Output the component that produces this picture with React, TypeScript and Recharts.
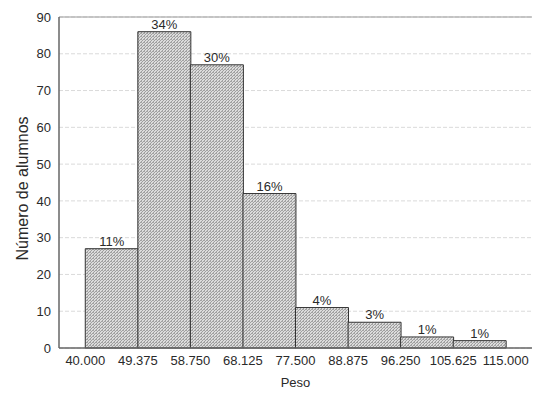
import { BarChart, Bar, XAxis, YAxis, CartesianGrid, LabelList, ReferenceLine } from "recharts";

const edges = ["40.000", "49.375", "58.750", "68.125", "77.500", "88.875", "96.250", "105.625", "115.000"];
const counts = [27, 86, 77, 42, 11, 7, 3, 2];
const percents = ["11%", "34%", "30%", "16%", "4%", "3%", "1%", "1%"];
const yTicks = [0, 10, 20, 30, 40, 50, 60, 70, 80, 90];

const rows = counts.map((count, i) => ({ pos: i + 0.5, count, pct: percents[i] }));
const edgeTicks = edges.map((_, i) => i);

const font = "'Liberation Sans', Arial, sans-serif";
const ink = "#2a2a2a";

export default function App() {
  return (
    <div style={{ position: "absolute", left: 0, top: 0, fontFamily: font }}>
      <BarChart
        width={535}
        height={394}
        data={rows}
        margin={{ top: 17, right: 3, bottom: 0, left: 0 }}
        barCategoryGap={0}
        barGap={0}
      >
        <defs>
          <pattern id="hatch" patternUnits="userSpaceOnUse" width="3" height="3">
            <rect width="3" height="3" fill="#dcdcdc" />
            <path d="M0,3 L3,0" stroke="#8e8e8e" strokeWidth="0.8" />
            <rect x="0" y="0" width="1" height="1" fill="#a8a8a8" />
          </pattern>
        </defs>
        <CartesianGrid vertical={false} stroke="#dadada" strokeDasharray="4 2" />
        <XAxis
          dataKey="pos"
          type="number"
          domain={[-0.5, 8.5]}
          ticks={edgeTicks}
          interval={0}
          tickFormatter={(i: number) => edges[i]}
          tickLine={false}
          axisLine={{ stroke: "#666", strokeWidth: 1.5 }}
          height={46}
          tick={{ fill: ink, fontSize: 13, fontFamily: font }}
          label={{ value: "Peso", position: "insideBottom", offset: 7, fill: ink, fontSize: 13, fontFamily: font }}
        />
        <XAxis
          xAxisId="top"
          orientation="top"
          type="number"
          domain={[-0.5, 8.5]}
          allowDataOverflow
          ticks={edgeTicks}
          interval={0}
          height={0}
          mirror
          tickSize={3}
          tickFormatter={() => ""}
          tickLine={{ stroke: "#666" }}
          axisLine={{ stroke: "#999" }}
        />
        <YAxis
          domain={[0, 90]}
          ticks={yTicks}
          interval={0}
          width={59}
          tickLine={false}
          axisLine={{ stroke: "#666", strokeWidth: 1.5 }}
          tick={{ fill: ink, fontSize: 13, fontFamily: font }}
          label={{
            value: "Número de alumnos",
            content: (p: any) => {
              const vb = p.viewBox || { x: 0, y: 0, width: 0, height: 0 };
              const cx = vb.x + 22;
              const cy = vb.y + vb.height / 2 + 6;
              return (
                <text
                  x={cx}
                  y={cy}
                  transform={`rotate(-90 ${cx} ${cy})`}
                  textAnchor="middle"
                  dominantBaseline="central"
                  fill={ink}
                  fontSize={16}
                  fontFamily={font}
                >
                  Número de alumnos
                </text>
              );
            },
          }}
        />
        <YAxis
          yAxisId="right"
          orientation="right"
          domain={[0, 90]}
          allowDataOverflow
          ticks={yTicks}
          interval={0}
          width={0}
          mirror
          tickSize={3}
          tickFormatter={() => ""}
          tickLine={{ stroke: "#666" }}
          axisLine={{ stroke: "#999" }}
        />
        <ReferenceLine y={90} stroke="#999" />
        <Bar dataKey="count" fill="url(#hatch)" stroke="#333" strokeWidth={1} isAnimationActive={false}>
          <LabelList dataKey="pct" position="top" offset={3} fill={ink} fontSize={13} fontFamily={font} />
        </Bar>
      </BarChart>
    </div>
  );
}
